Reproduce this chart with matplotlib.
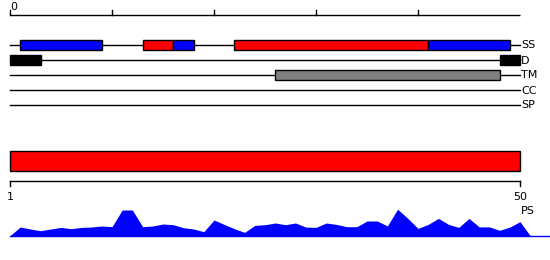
import matplotlib
matplotlib.use("Agg")
import matplotlib.pyplot as plt
from matplotlib.patches import Rectangle

# ---- data ----
seq_len = 50
top_ticks = [0, 10, 20, 30, 40]
top_tick_labels = ["0"]
track_names = ["SS", "D", "TM", "CC", "SP"]

# secondary structure segments (start, end, colour)
ss_starts = [1, 13, 16, 22, 41]
ss_ends = [9, 16, 18, 41, 49]
ss_colors = ["#0000ff", "#ff0000", "#0000ff", "#ff0000", "#0000ff"]

# disorder segments
d_starts = [0, 48]
d_ends = [3, 50]

# transmembrane segments
tm_starts = [26]
tm_ends = [48]

# bottom PS domain
ps_start, ps_end = 0, 50
bottom_tick_pos = [0, 50]
bottom_tick_labels = ["1", "50"]

# profile values
profile_x = list(range(52))
profile_y = [0, 8.7, 6.7, 5, 6.7, 8.3, 7, 8.3, 8.7, 9.7,
             9, 25.7, 25.7, 9, 9.7, 11.7, 11, 8, 6.7, 4,
             15.7, 11.3, 7, 3.3, 10.3, 11, 12.7, 11, 12.7, 8.6,
             8.3, 12.7, 11.3, 9, 9, 14.7, 14.7, 9.8, 26.5, 17.3,
             7.3, 11.3, 17.3, 11.3, 8.3, 17.3, 8.8, 8.8, 5.4, 8.6,
             14, 0]

# ---- layout (pixel units in y) ----
W, H = 550, 260
px_per_unit = 10.2
x0_px = 10
fig = plt.figure(figsize=(W / 100, H / 100), dpi=100)
ax = fig.add_axes([0, 0, 1, 1])
ax.set_xlim(-x0_px / px_per_unit, (W - x0_px) / px_per_unit)
ax.set_ylim(H, 0)
ax.axis("off")

fs = 8
font = dict(family="DejaVu Sans", fontsize=fs)

# top scale
axis_y = 15
ax.plot([0, seq_len], [axis_y, axis_y], color="black", lw=1, solid_capstyle="butt")
for t in top_ticks:
    ax.plot([t, t], [axis_y, axis_y - 5], color="black", lw=1)
ax.text(top_ticks[0] + 0.05, 9.5, top_tick_labels[0], ha="left", va="baseline", **font)

# tracks
track_y = {"SS": 45, "D": 60, "TM": 75, "CC": 90, "SP": 105}
box_h = 10
label_x = seq_len + 0.1
for name in track_names:
    y = track_y[name]
    ax.plot([0, seq_len], [y, y], color="black", lw=1, zorder=1)
    ax.text(label_x, y + 0.5, name, ha="left", va="center", **font)

for s, e, c in zip(ss_starts, ss_ends, ss_colors):
    ax.add_patch(Rectangle((s, track_y["SS"] - box_h / 2), e - s, box_h,
                           facecolor=c, edgecolor="black", lw=1, zorder=2))
for s, e in zip(d_starts, d_ends):
    ax.add_patch(Rectangle((s, track_y["D"] - box_h / 2), e - s, box_h,
                           facecolor="black", edgecolor="black", lw=1, zorder=2))
for s, e in zip(tm_starts, tm_ends):
    ax.add_patch(Rectangle((s, track_y["TM"] - box_h / 2), e - s, box_h,
                           facecolor="#808080", edgecolor="black", lw=1, zorder=2))

# PS domain bar
ax.add_patch(Rectangle((ps_start, 150.5), ps_end - ps_start, 20,
                       facecolor="#ff0000", edgecolor="black", lw=1, zorder=2))

# bottom scale
baxis_y = 180.5
ax.plot([bottom_tick_pos[0], bottom_tick_pos[-1]], [baxis_y, baxis_y], color="black", lw=1)
for p, lab in zip(bottom_tick_pos, bottom_tick_labels):
    ax.plot([p, p], [baxis_y, baxis_y + 5], color="black", lw=1)
    ax.text(p + 0.05, 199.5, lab, ha="center", va="baseline", **font)
ax.text(seq_len + 0.1, 214.5, "PS", ha="left", va="baseline", **font)

# profile
base = 235.7
ax.fill_between(profile_x, [base - v for v in profile_y], base,
                color="#0000ff", lw=0, zorder=2)
ax.plot([profile_x[0], (W - x0_px) / px_per_unit], [base, base], color="#0000ff", lw=1)

fig.savefig("out.png", dpi=100)
